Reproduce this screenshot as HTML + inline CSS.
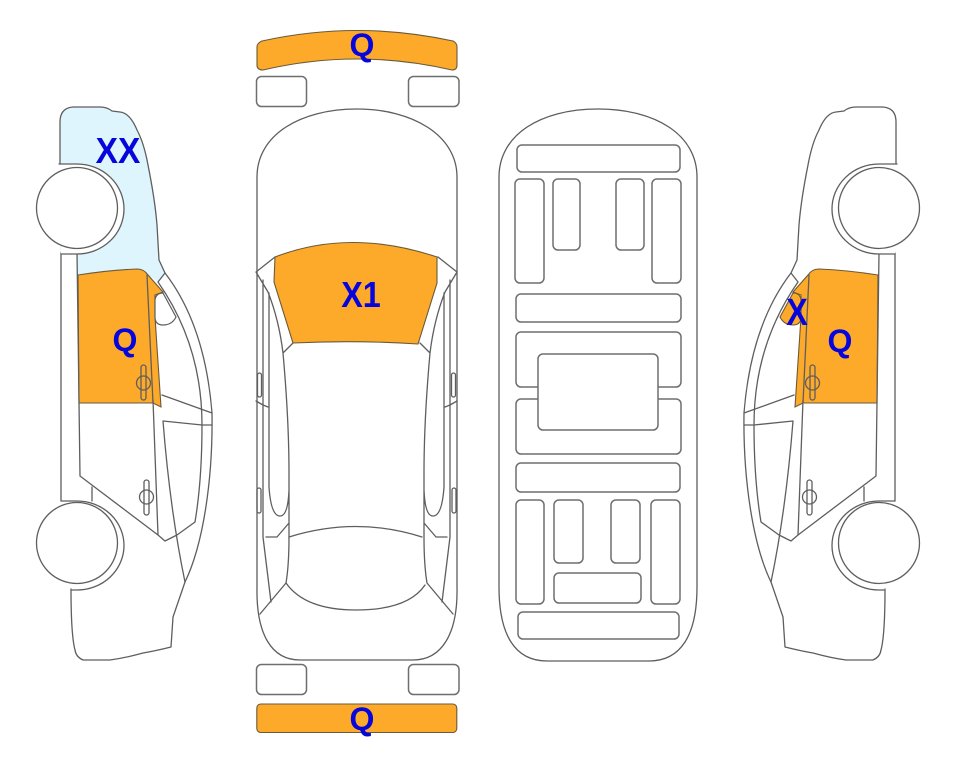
<!DOCTYPE html>
<html>
<head>
<meta charset="utf-8">
<style>
html,body{margin:0;padding:0;background:#fff}
svg{display:block}
text{font-family:"Liberation Sans",sans-serif;font-weight:700;fill:#0505dc;text-anchor:middle}
.l{fill:none;stroke:#5e5e5e;stroke-width:1.3;stroke-linejoin:round;stroke-linecap:round}
.r{fill:#fff;stroke:#6e6e6e;stroke-width:1.5}
.o{fill:#fdaa2b;stroke:#6a5a3a;stroke-width:1.1}
</style>
</head>
<body>
<svg width="963" height="768" viewBox="0 0 963 768" xmlns="http://www.w3.org/2000/svg">
<defs>
<g id="side">
  <path class="l" d="M60 165V122Q60 108 73 107H100Q107 107 112 111L120 112Q130 113 137 130Q144 143 148 165Q155 200 157 225L159 260L165 273Q205 325 212 413C213 480 203 545 185 582L173 617L171 647Q155 651 143 653Q125 658 110 660L83 660Q76 657 75 650Q71 635 71 589"/>
  <path class="l" d="M61 253V501M77 253L80 476L158 535L165 541L177 535L195 522Q202 480 202 425Q202 345 158 282M165 273L158 282"/>
  <path class="l" d="M92 487V501M153 400L158 535M163 421Q170 510 185 582M162 395L212 413M163 421L202 425L212 425"/>
</g>
<g id="wheels">
  <path class="l" style="fill:#fff" d="M59 164H77A47 45 0 0 1 77 254H61"/>
  <circle class="l" cx="77" cy="208" r="40.5" style="fill:#fff"/>
  <path class="l" style="fill:#fff" d="M61 501H77A47 44.500 0 0 1 77 590H72"/>
  <circle class="l" cx="77" cy="543" r="40.5" style="fill:#fff"/>
</g>
<g id="door">
  <path class="o" d="M78 275Q110 270 137 269Q144 269 148 275L163 292L155 295V317L161 407L153 403H79Z"/>
  <path class="l" d="M147 275L153 403"/>
  <rect class="l" x="141" y="365" width="5" height="35" rx="2.500"/>
  <circle class="l" cx="143.500" cy="383" r="7"/>
  <rect class="l" x="144" y="480" width="5" height="35" rx="2.500"/>
  <circle class="l" cx="146.500" cy="497" r="7"/>
</g>
</defs>

<!-- left car -->
<path d="M60 165V122Q60 108 73 107H100Q107 107 112 111L120 112Q130 113 137 130Q144 143 148 165Q155 200 157 225L159 260L165 273L158 282L148 275Q144 269 137 269Q110 270 77 275V253H60Z" fill="#dff5fd"/>
<use href="#door"/>
<use href="#side"/>
<path d="M155 300Q156 293 163 293L176 317Q172 325 163 325Q155 325 155 317Z" fill="#fff" stroke="#5e5e5e" stroke-width="1.2"/>
<use href="#wheels"/>

<!-- right car -->
<g transform="translate(956,0) scale(-1,1)">
  <use href="#door"/>
  <use href="#side"/>
  <path class="o" d="M155 300Q156 293 163 293L176 317Q172 325 163 325Q155 325 155 317Z"/>
  <use href="#wheels"/>
</g>

<!-- top view -->
<path class="o" d="M262 41Q357 20 453 41Q457 43 457 47V65Q457 70 452 70Q357 48 263 70Q257 70 257 65V47Q257 43 262 41Z"/>
<rect class="r" x="256.500" y="76.500" width="50" height="30" rx="5"/>
<rect class="r" x="408.500" y="76.500" width="50.500" height="30" rx="5"/>
<path class="l" d="M357 109C300 109 257 135 257 177V587C256 635 272 660 300 660H413C441 660 458 635 457 587V177C457 135 412 109 357 109Z"/>
<path class="o" d="M275 257Q350 228 437 257V283L418 344Q357 340 293 343L274 282Z"/>
<g id="half">
  <path class="l" d="M256 272L275 257M256 272L268 292Q279 320 283 353L293 343M283 353Q289 420 289 473V537Q289 565 286 583M263 280V537L271 602M269 293V487Q271 516 280 516Q288 516 289 490M256 401L263 405L268 407M266 537H277L289 523M286 583L260 614"/>
  <rect class="l" x="257.500" y="373" width="4" height="24" rx="2"/>
  <rect class="l" x="257" y="488" width="4" height="25" rx="2"/>
</g>
<use href="#half" transform="translate(713,0) scale(-1,1)"/>
<path class="l" d="M289 537Q356 516 422 537M286 583Q305 610 356 610Q408 610 425 585"/>
<rect class="r" x="256.500" y="664.500" width="50" height="30" rx="5"/>
<rect class="r" x="408.500" y="664.500" width="50.500" height="30" rx="5"/>
<rect class="o" x="256.800" y="704" width="200" height="28.500" rx="4"/>

<!-- underbody -->
<path class="l" d="M598 109C540 109 499 135 499 177V587C499 635 515 661 547 661H649C681 661 697 635 697 587V177C697 135 656 109 598 109Z"/>
<rect class="r" x="517" y="145" width="163" height="27" rx="5"/>
<rect class="r" x="515" y="179" width="29" height="104" rx="5"/>
<rect class="r" x="553" y="179" width="27" height="71" rx="5"/>
<rect class="r" x="616" y="179" width="28" height="71" rx="5"/>
<rect class="r" x="652" y="179" width="29" height="104" rx="5"/>
<rect class="r" x="516" y="294" width="165" height="28" rx="5"/>
<rect class="r" x="516" y="332" width="165" height="55" rx="5"/>
<rect class="r" x="516" y="399" width="165" height="55" rx="5"/>
<rect class="r" x="538" y="354" width="120" height="76" rx="5"/>
<rect class="r" x="516" y="463" width="164" height="29" rx="5"/>
<rect class="r" x="516" y="500" width="28" height="104" rx="5"/>
<rect class="r" x="554" y="500" width="29" height="63" rx="5"/>
<rect class="r" x="611" y="500" width="29" height="63" rx="5"/>
<rect class="r" x="651" y="500" width="29" height="104" rx="5"/>
<rect class="r" x="554" y="573" width="87" height="30" rx="5"/>
<rect class="r" x="518" y="612" width="161" height="27" rx="5"/>

<!-- labels -->
<text transform="translate(118,163) scale(.93,1)" font-size="36">XX</text>
<text x="125" y="351" font-size="32">Q</text>
<text transform="translate(361,307) scale(.9,1)" font-size="36">X1</text>
<text x="362" y="56" font-size="32">Q</text>
<text x="362" y="730" font-size="32">Q</text>
<text transform="translate(797,325) scale(.85,1)" font-size="38">X</text>
<text x="840" y="352" font-size="32">Q</text>
</svg>
</body>
</html>
